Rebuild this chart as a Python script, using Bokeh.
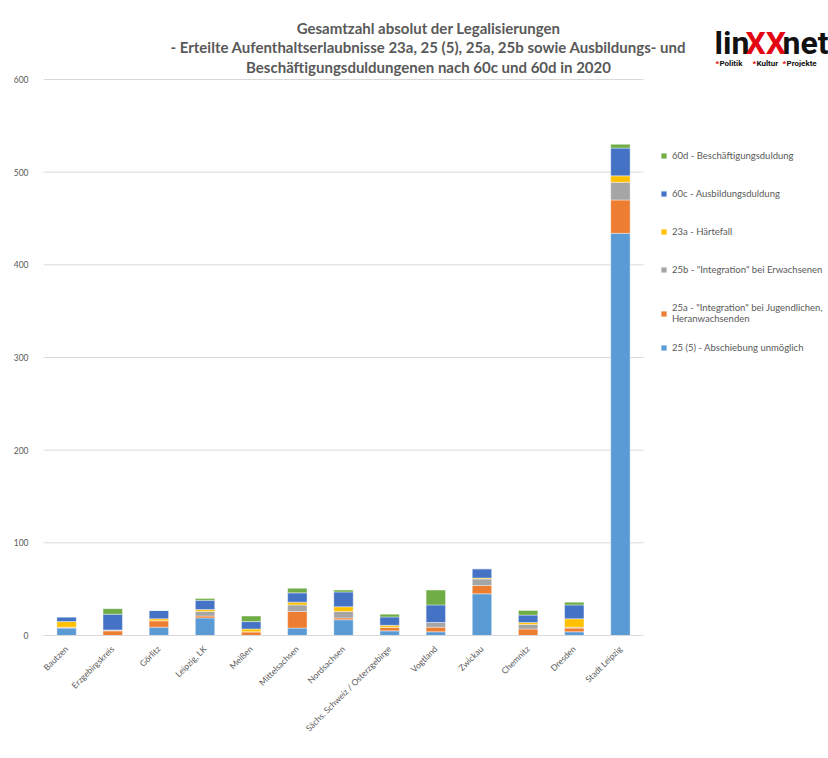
import math
from bokeh.plotting import figure
from bokeh.models import (Range1d, Legend, LegendItem, Label, FixedTicker, ColumnDataSource)
from bokeh.embed import file_html
from bokeh.resources import INLINE

# ---------------- data ----------------
categories = ["Bautzen", "Erzgebirgskreis", "Görlitz", "Leipzig, LK", "Meißen",
              "Mittelsachsen", "Nordsachsen", "Sächs. Schweiz / Osterzgebirge",
              "Vogtland", "Zwickau", "Chemnitz", "Dresden", "Stadt Leipzig"]

v_25_5 = [8, 0, 9, 19, 0, 8, 17, 5, 4, 45, 0, 4, 434]
v_25a = [1, 5, 7, 2, 4, 18, 2, 4, 5, 9, 7, 4, 36]
v_25b = [0, 1, 0, 5, 0, 7, 7, 0, 5, 7, 5, 1, 19]
v_23a = [6, 0, 2, 2, 3, 3, 5, 2, 0, 1, 2, 9, 7]
v_60c = [5, 17, 9, 10, 8, 10, 16, 9, 19, 10, 8, 15, 30]
v_60d = [0, 6, 0, 2, 6, 5, 2, 3, 16, 0, 5, 3, 4]

series_keys = ["s25_5", "s25a", "s25b", "s23a", "s60c", "s60d"]
series_names = ["25 (5) - Abschiebung unmöglich",
                '25a - "Integration" bei Jugendlichen,\nHeranwachsenden',
                '25b - "Integration" bei Erwachsenen',
                "23a - Härtefall",
                "60c - Ausbildungsduldung",
                "60d - Beschäftigungsduldung"]
colors = ["#5B9BD5", "#ED7D31", "#A5A5A5", "#FFC000", "#4472C4", "#70AD47"]

y_ticks = [0, 100, 200, 300, 400, 500, 600]
y_max = 600

title_lines = ["Gesamtzahl absolut der Legalisierungen",
               "- Erteilte Aufenthaltserlaubnisse 23a, 25 (5), 25a, 25b sowie Ausbildungs- und",
               "Beschäftigungsduldungenen nach 60c und 60d in 2020"]

# ---------------- layout (page px) ----------------
W, H = 828, 758
PL, PR, PT, PB = 43, 643, 79, 635      # plot area (where bars/grid live)
n = len(categories)
ux = (PR - PL) / n                     # px per category slot
uy = (PB - PT) / y_max                 # px per value unit

# frame covers everything right of the y-axis and above the x-axis labels
x_end = (W - PL) / ux
y_end = PB / uy

p = figure(width=W, height=H, x_range=Range1d(0, x_end), y_range=Range1d(0, y_end),
           output_backend="svg", toolbar_location=None,
           min_border_left=PL, min_border_right=0, min_border_top=0,
           min_border_bottom=H - PB)
p.extra_x_ranges = {"px": Range1d(PL, W)}
p.extra_y_ranges = {"py": Range1d(PB, 0)}
p.outline_line_color = None
p.xgrid.grid_line_color = None
p.ygrid.grid_line_color = None

xs = [i + 0.5 for i in range(n)]
src = ColumnDataSource({"x": xs, "cat": categories, "s25_5": v_25_5, "s25a": v_25a,
                        "s25b": v_25b, "s23a": v_23a, "s60c": v_60c, "s60d": v_60d})

# horizontal grid lines across the plot area only
grid_ticks = [t for t in y_ticks if t > 0]
p.segment(x0=[0] * len(grid_ticks), x1=[n] * len(grid_ticks), y0=grid_ticks,
          y1=grid_ticks, line_color="#d9d9d9", line_width=1)

rs = p.vbar_stack(series_keys, x="x", width=0.42, color=colors,
                  line_color="white", line_width=0.4, source=src)

# axes
p.yaxis.ticker = FixedTicker(ticks=y_ticks)
p.yaxis.axis_line_color = None
p.yaxis.major_tick_line_color = None
p.yaxis.minor_tick_line_color = None
p.yaxis.major_label_standoff = 9
p.xaxis.ticker = FixedTicker(ticks=xs)
p.xaxis.major_label_overrides = {x: c for x, c in zip(xs, categories)}
p.xaxis.bounds = (0, n)
p.xaxis.axis_line_color = "#d9d9d9"
p.xaxis.major_tick_line_color = None
p.xaxis.minor_tick_line_color = None
p.xaxis.major_label_orientation = math.pi / 4
p.xaxis.major_label_standoff = 6
for ax in (p.xaxis, p.yaxis):
    ax.major_label_text_font = "Lato"
    ax.major_label_text_font_size = "8.5px"
    ax.major_label_text_color = "#595959"

# legends (two blocks to mimic the even spacing of the original)
leg_a = Legend(items=[LegendItem(label=series_names[i], renderers=[rs[i]]) for i in (5, 4, 3, 2)],
               location=(660 - PL, PB - 275), spacing=26)
leg_b = Legend(items=[LegendItem(label=series_names[i], renderers=[rs[i]]) for i in (1, 0)],
               location=(660 - PL, PB - 353), spacing=17)
for lg in (leg_a, leg_b):
    lg.padding = 0
    lg.margin = 0
    lg.border_line_color = None
    lg.background_fill_alpha = 0
    lg.glyph_width = 7
    lg.glyph_height = 7
    lg.label_height = 12
    lg.label_standoff = 5
    lg.label_text_font = "Lato"
    lg.label_text_font_size = "9.5px"
    lg.label_text_color = "#595959"
    p.add_layout(lg, "center")

# title
for i, line in enumerate(title_lines):
    p.add_layout(Label(x=428, y=27 + 19.5 * i, x_range_name="px", y_range_name="py",
                       text=line, text_align="center", text_baseline="middle",
                       text_font="Lato", text_font_style="bold",
                       text_font_size="15px", text_color="#595959"))

# logo
logo_font = "Roboto"
for txt, x, col in (("lin", 714, "#111111"), ("XX", 745, "#E30613"), ("net", 782, "#111111")):
    p.add_layout(Label(x=x, y=42, x_range_name="px", y_range_name="py", text=txt,
                       text_align="left", text_baseline="middle",
                       text_font=logo_font, text_font_style="bold",
                       text_font_size="32px", text_color=col))
for txt, x in (("Politik", 719), ("Kultur", 756), ("Projekte", 786)):
    p.add_layout(Label(x=x - 4, y=63, x_range_name="px", y_range_name="py", text="*",
                       text_align="left", text_baseline="middle", text_font=logo_font,
                       text_font_style="bold", text_font_size="8px", text_color="#E30613"))
    p.add_layout(Label(x=x, y=63, x_range_name="px", y_range_name="py", text=txt,
                       text_align="left", text_baseline="middle", text_font=logo_font,
                       text_font_style="bold", text_font_size="8px", text_color="#111111"))

open("out.html", "w").write(file_html(p, INLINE))
